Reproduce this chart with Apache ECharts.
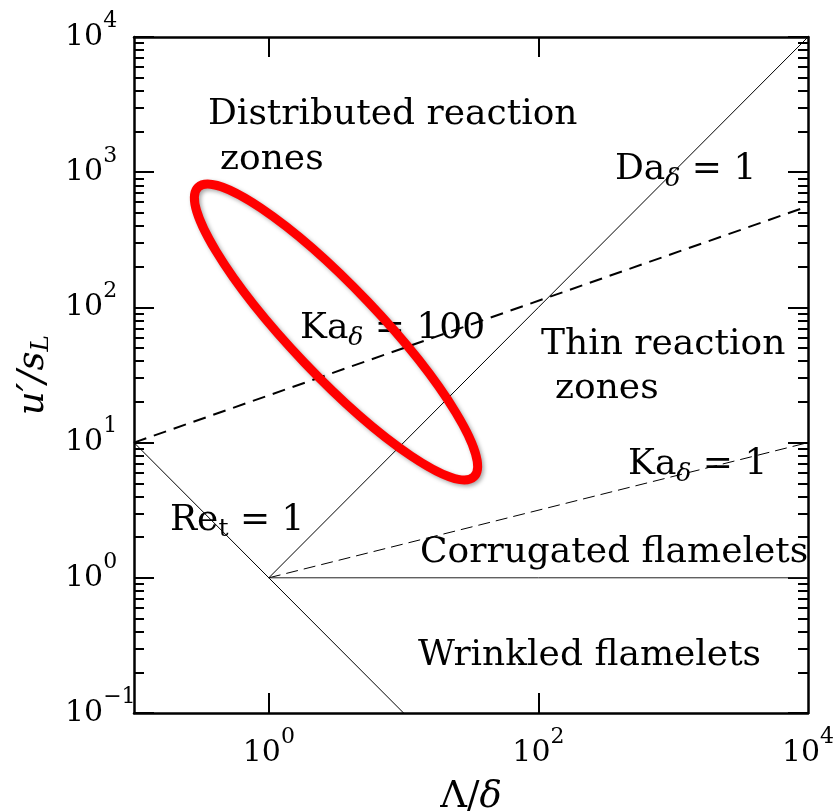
<!DOCTYPE html>
<html>
<head>
<meta charset="utf-8">
<script src="https://cdn.jsdelivr.net/npm/echarts@6/dist/echarts.min.js"></script>
<style>
html,body{margin:0;padding:0;background:#fff;}
#chart{width:836px;height:811px;}
</style>
</head>
<body>
<div id="chart"></div>
<script>
// ---- data ----
const reT1 = [[0.1, 10], [10, 0.1]];
const daDelta1 = [[1, 1], [10000, 10000]];
const kaDelta100 = [[0.1, 10], [10000, 560]];
const kaDelta1 = [[1, 1], [10000, 10]];
const flameletBoundary = [[1, 1], [10000, 1]];

const xTickValues = [1, 100];
const xLabelValues = [1, 100, 10000];
const yMajorValues = [0.1, 1, 10, 100, 1000, 10000];
const yMinorValues = [
  0.2, 0.3, 0.4, 0.5, 0.6, 0.7, 0.8, 0.9,
  2, 3, 4, 5, 6, 7, 8, 9,
  20, 30, 40, 50, 60, 70, 80, 90,
  200, 300, 400, 500, 600, 700, 800, 900,
  2000, 3000, 4000, 5000, 6000, 7000, 8000, 9000
];

const SERIF = '"DejaVu Serif", serif';

function powLabel(v) {
  const e = Math.round(Math.log10(v));
  const s = e < 0 ? '\u2212' + (-e) : String(e);
  return '{b|10}{s|' + s + '}';
}
const tickRich = {
  b: { fontFamily: SERIF, fontSize: 30, color: '#000' },
  s: { fontFamily: SERIF, fontSize: 22, color: '#000', padding: [0, 0, 32, 0] }
};

const chart = echarts.init(document.getElementById('chart'), null, { renderer: 'canvas' });

function logAxis(extra) {
  return Object.assign({
    type: 'log',
    logBase: 10,
    min: 0.1,
    max: 10000,
    splitLine: { show: false },
    minorTick: { show: false },
    axisLine: { show: true, lineStyle: { color: '#000', width: 2.5 } },
    axisTick: { show: false },
    axisLabel: { show: false }
  }, extra);
}

const option = {
  animation: false,
  backgroundColor: '#fff',
  grid: { left: 134, top: 37, right: 28, bottom: 98, containLabel: false, outerBoundsMode: 'none' },
  xAxis: [
    logAxis({
      position: 'bottom',
      axisTick: { show: true, inside: true, length: 20, lineStyle: { color: '#000', width: 2 }, customValues: xTickValues },
      axisLabel: { show: true, margin: 13, customValues: xLabelValues, formatter: powLabel, rich: tickRich },
      name: '{n|\u039B/}{i|\u03B4}',
      nameLocation: 'middle',
      nameGap: 66,
      nameTextStyle: {
        rich: {
          n: { fontFamily: SERIF, fontSize: 37, color: '#000' },
          i: { fontFamily: SERIF, fontSize: 37, fontStyle: 'italic', color: '#000' }
        }
      }
    }),
    logAxis({
      position: 'top',
      axisTick: { show: true, inside: true, length: 20, lineStyle: { color: '#000', width: 2 }, customValues: xTickValues }
    })
  ],
  yAxis: [
    logAxis({
      position: 'left',
      axisTick: { show: true, inside: true, length: 20, lineStyle: { color: '#000', width: 2 }, customValues: yMajorValues },
      axisLabel: { show: true, margin: 69, align: 'left', customValues: yMajorValues, formatter: powLabel, rich: tickRich },
      name: '{i|u\u2032/s}{l|L}',
      nameLocation: 'middle',
      nameGap: 68,
      nameTextStyle: {
        rich: {
          i: { fontFamily: SERIF, fontSize: 37, fontStyle: 'italic', color: '#000' },
          l: { fontFamily: SERIF, fontSize: 25, fontStyle: 'italic', color: '#000', padding: [16, 0, 0, 0] }
        }
      }
    }),
    logAxis({
      position: 'left',
      axisLine: { show: false },
      axisTick: { show: true, inside: true, length: 10, lineStyle: { color: '#000', width: 2 }, customValues: yMinorValues }
    }),
    logAxis({
      position: 'right',
      axisTick: { show: true, inside: true, length: 20, lineStyle: { color: '#000', width: 2 }, customValues: yMajorValues }
    }),
    logAxis({
      position: 'right',
      axisLine: { show: false },
      axisTick: { show: true, inside: true, length: 10, lineStyle: { color: '#000', width: 2 }, customValues: yMinorValues }
    })
  ],
  series: [
    { name: 'Re_t = 1', type: 'line', data: reT1, symbol: 'none', silent: true,
      lineStyle: { color: '#000', width: 1 } },
    { name: 'Da = 1', type: 'line', data: daDelta1, symbol: 'none', silent: true,
      lineStyle: { color: '#000', width: 1 } },
    { name: 'Ka = 100', type: 'line', data: kaDelta100, symbol: 'none', silent: true,
      lineStyle: { color: '#000', width: 2, type: [13, 8] } },
    { name: 'Ka = 1', type: 'line', data: kaDelta1, symbol: 'none', silent: true,
      lineStyle: { color: '#000', width: 1, type: [12, 6] } },
    { name: 'flamelet boundary', type: 'line', data: flameletBoundary, symbol: 'none', silent: true,
      lineStyle: { color: '#222', width: 1 } }
  ]
};
chart.setOption(option);

// ---- annotations ----
const plainStyle = { fontFamily: SERIF, fontSize: 36, fill: '#000', align: 'left', verticalAlign: 'middle' };
const subRich = {
  r: { fontFamily: SERIF, fontSize: 36, color: '#000' },
  d: { fontFamily: SERIF, fontSize: 25, fontStyle: 'italic', color: '#000', padding: [18, 0, 0, 0] },
  t: { fontFamily: SERIF, fontSize: 25, color: '#000', padding: [16, 0, 0, 0] }
};
function txt(text, x, y) {
  return { type: 'text', x: x, y: y, z: 10, silent: true, style: Object.assign({ text: text }, plainStyle) };
}
function rtxt(text, x, y) {
  return { type: 'text', x: x, y: y, z: 10, silent: true,
    style: { text: text, rich: subRich, align: 'left', verticalAlign: 'middle', fontFamily: SERIF, fontSize: 36, fill: '#000' } };
}

chart.setOption({
  graphic: [
    txt('Distributed reaction', 208, 115),
    txt('zones', 220, 160),
    rtxt('{r|Da}{d|\u03B4}{r| = 1}', 615, 170),
    rtxt('{r|Ka}{d|\u03B4}{r| = 100}', 300, 329),
    txt('Thin reaction', 541, 345),
    txt('zones', 555, 389),
    rtxt('{r|Ka}{d|\u03B4}{r| = 1}', 628, 465),
    rtxt('{r|Re}{t|t}{r| = 1}', 170, 521),
    txt('Corrugated flamelets', 420, 553),
    txt('Wrinkled flamelets', 418, 656),
    {
      type: 'ellipse',
      x: 336, y: 332,
      rotation: -46.4 * Math.PI / 180,
      z: 20,
      silent: true,
      shape: { cx: 0, cy: 0, rx: 200, ry: 44 },
      style: {
        fill: null,
        stroke: '#ff0000',
        lineWidth: 9,
        shadowBlur: 4,
        shadowOffsetX: 2,
        shadowOffsetY: 2,
        shadowColor: 'rgba(0,0,0,0.35)'
      }
    }
  ]
});
</script>
</body>
</html>
